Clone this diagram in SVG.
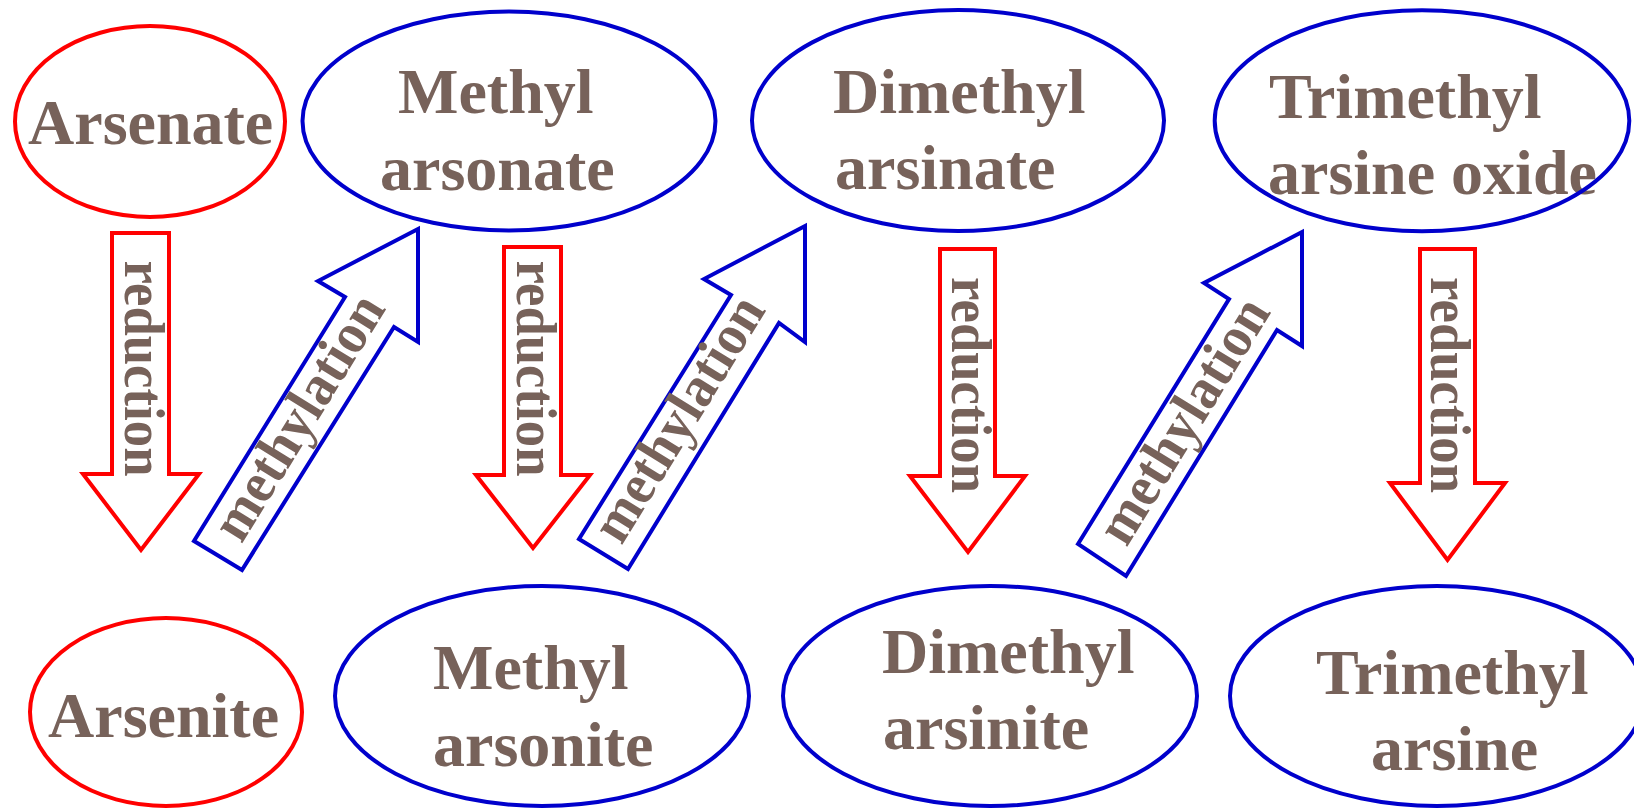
<svg xmlns="http://www.w3.org/2000/svg" width="1634" height="811" viewBox="0 0 1634 811">
  <style>
    .bg { fill: #ffffff; }
    .red { fill: none; stroke: #ff0000; stroke-width: 4; stroke-linejoin: miter; }
    .blue { fill: none; stroke: #0000cc; stroke-width: 4; stroke-linejoin: miter; }
    .arrow-red { fill: #ffffff; stroke: #ff0000; stroke-width: 4; stroke-linejoin: miter; }
    .arrow-blue { fill: #ffffff; stroke: #0000cc; stroke-width: 4; stroke-linejoin: miter; }
    .name { font-family: "Liberation Serif", "Times New Roman", serif; font-weight: bold; font-size: 64px; fill: #77625a; }
    .step { font-family: "Liberation Serif", "Times New Roman", serif; font-weight: bold; font-size: 57px; fill: #77625a; }
  </style>
  <rect class="bg" x="0" y="0" width="1634" height="811"/>

  <!-- connectors: reduction (down) and methylation (diagonal up) arrows -->
  <g id="connectors">
    <g id="reduction-1">
      <polygon class="arrow-red" points="112,233 169,233 169,474 199,474 141,550 83,474 112,474"/>
      <text class="step" transform="translate(125,368.5) rotate(90)" text-anchor="middle" textLength="216" lengthAdjust="spacingAndGlyphs">reduction</text>
    </g>
    <g id="methylation-1">
      <polygon class="arrow-blue" points="194,541 345,297 318,281 418,229 418,342 394,327 242,570"/>
      <text class="step" transform="translate(314,426.5) rotate(-58.4)" text-anchor="middle" textLength="277" lengthAdjust="spacingAndGlyphs">methylation</text>
    </g>
    <g id="reduction-2">
      <polygon class="arrow-red" points="504,247 561,247 561,475 590,475 533,548 476,475 504,475"/>
      <text class="step" transform="translate(517,368.5) rotate(90)" text-anchor="middle" textLength="216" lengthAdjust="spacingAndGlyphs">reduction</text>
    </g>
    <g id="methylation-2">
      <polygon class="arrow-blue" points="579,539 731,295 704,279 805,226 805,342 779,323 628,569"/>
      <text class="step" transform="translate(694,428) rotate(-58.4)" text-anchor="middle" textLength="277" lengthAdjust="spacingAndGlyphs">methylation</text>
    </g>
    <g id="reduction-3">
      <polygon class="arrow-red" points="940,249 995,249 995,476 1025,476 968,552 910,476 940,476"/>
      <text class="step" transform="translate(952,385) rotate(90)" text-anchor="middle" textLength="216" lengthAdjust="spacingAndGlyphs">reduction</text>
    </g>
    <g id="methylation-3">
      <polygon class="arrow-blue" points="1078,544 1229,299 1204,283 1302,232 1302,346 1277,330 1126,576"/>
      <text class="step" transform="translate(1199,430) rotate(-58.4)" text-anchor="middle" textLength="277" lengthAdjust="spacingAndGlyphs">methylation</text>
    </g>
    <g id="reduction-4">
      <polygon class="arrow-red" points="1420,249 1475,249 1475,483 1505,483 1447.5,560 1390,483 1420,483"/>
      <text class="step" transform="translate(1431,385) rotate(90)" text-anchor="middle" textLength="216" lengthAdjust="spacingAndGlyphs">reduction</text>
    </g>
  </g>

  <!-- top row: oxidised (pentavalent) species -->
  <g id="arsenate">
    <ellipse class="red" cx="150" cy="121.5" rx="135" ry="95.5"/>
    <text class="name" x="28" y="144">Arsenate</text>
  </g>
  <g id="methyl-arsonate">
    <ellipse class="blue" cx="509" cy="121" rx="206.5" ry="109.5"/>
    <text class="name" x="398" y="113">Methyl</text>
    <text class="name" x="380" y="190">arsonate</text>
  </g>
  <g id="dimethyl-arsinate">
    <ellipse class="blue" cx="958" cy="120.5" rx="206" ry="110.5"/>
    <text class="name" x="833" y="113">Dimethyl</text>
    <text class="name" x="835" y="189">arsinate</text>
  </g>
  <g id="trimethyl-arsine-oxide">
    <text class="name" x="1269" y="118">Trimethyl</text>
    <text class="name" x="1268" y="194">arsine oxide</text>
    <ellipse class="blue" cx="1422" cy="120.8" rx="207.3" ry="110.5"/>
  </g>

  <!-- bottom row: reduced (trivalent) species -->
  <g id="arsenite">
    <ellipse class="red" cx="166" cy="712" rx="136" ry="94"/>
    <text class="name" x="48" y="737">Arsenite</text>
  </g>
  <g id="methyl-arsonite">
    <ellipse class="blue" cx="542" cy="696" rx="207" ry="110"/>
    <text class="name" x="433" y="689">Methyl</text>
    <text class="name" x="433" y="766">arsonite</text>
  </g>
  <g id="dimethyl-arsinite">
    <ellipse class="blue" cx="990" cy="696" rx="207" ry="110"/>
    <text class="name" x="882" y="673">Dimethyl</text>
    <text class="name" x="883" y="749">arsinite</text>
  </g>
  <g id="trimethyl-arsine">
    <ellipse class="blue" cx="1437" cy="696" rx="207" ry="110"/>
    <text class="name" x="1316" y="694">Trimethyl</text>
    <text class="name" x="1371" y="770">arsine</text>
  </g>
</svg>
